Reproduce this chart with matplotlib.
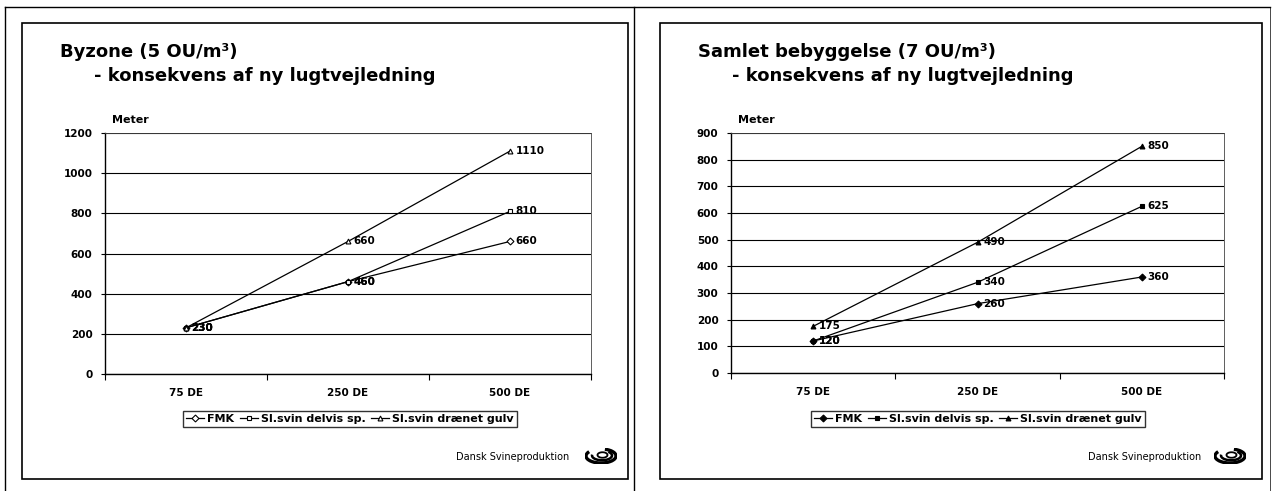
import matplotlib.pyplot as plt
from matplotlib.patches import Rectangle, Arc
from matplotlib.lines import Line2D

categories = ["75 DE", "250 DE", "500 DE"]
seriesNames = ["FMK", "Sl.svin delvis sp.", "Sl.svin drænet gulv"]

byzoneFmk = [230, 460, 660]
byzoneDelvis = [230, 460, 810]
byzoneDraenet = [230, 660, 1110]
byzoneTicks = [0, 200, 400, 600, 800, 1000, 1200]

samletFmk = [120, 260, 360]
samletDelvis = [120, 340, 625]
samletDraenet = [175, 490, 850]
samletTicks = [0, 100, 200, 300, 400, 500, 600, 700, 800, 900]

W, H = 1273, 491
markers = ["D", "s", "^"]


def fx(x):
    return x / W


def fy(y):
    return 1 - y / H


def figLine(fig, x0, y0, x1, y1, lw=1.0):
    fig.add_artist(Line2D([fx(x0), fx(x1)], [fy(y0), fy(y1)], transform=fig.transFigure,
                          color="black", lw=lw))


def drawLogo(fig, cx, cy):
    ax = fig.add_axes([fx(cx - 16), fy(cy + 8), 32 / W, 16 / H])
    ax.set_xlim(-1.6, 1.6)
    ax.set_ylim(-0.8, 0.8)
    ax.axis("off")
    ax.add_patch(Arc((0, 0), 3.0, 1.4, theta1=160, theta2=420, lw=2.4, color="black"))
    ax.add_patch(Arc((0.1, 0.05), 2.0, 0.95, theta1=175, theta2=390, lw=1.8, color="black"))
    ax.add_patch(Arc((0.15, 0.1), 1.0, 0.55, theta1=0, theta2=360, lw=1.3, color="black"))


def drawPanel(fig, box, axBox, title, series, ticks, legendX, footerX, logoX, filled):
    x0, y0, x1, y1 = box
    fig.add_artist(Rectangle((fx(x0), fy(y1)), fx(x1 - x0), (y1 - y0) / H,
                             transform=fig.transFigure, fill=False, lw=1.2, color="black"))

    fig.text(fx(x0 + 38), fy(52), title, fontsize=13, fontweight="bold",
             va="center", ha="left")
    fig.text(fx(x0 + 72), fy(76), "- konsekvens af ny lugtvejledning", fontsize=13,
             fontweight="bold", va="center", ha="left")

    ax0, ay0, ax1, ay1 = axBox
    ax = fig.add_axes([fx(ax0), fy(ay1), fx(ax1 - ax0), (ay1 - ay0) / H])
    fig.text(fx(ax0 + 7), fy(120), "Meter", fontsize=8, fontweight="bold", va="center")

    xs = range(len(categories))
    for values, name, marker in zip(series, seriesNames, markers):
        ax.plot(xs, values, color="black", lw=0.9, marker=marker, markersize=3.5,
                markerfacecolor="black" if filled else "white", markeredgewidth=0.8,
                label=name)
        for x, v in zip(xs, values):
            ax.annotate(str(v), (x, v), xytext=(4, 0), textcoords="offset points",
                        fontsize=7.5, fontweight="bold", va="center", ha="left")

    ax.set_xlim(-0.5, len(categories) - 0.5)
    ax.set_ylim(ticks[0], ticks[-1])
    ax.set_yticks(ticks)
    ax.set_yticklabels([str(t) for t in ticks], fontsize=7.5, fontweight="bold")
    ax.set_xticks([i - 0.5 for i in range(len(categories) + 1)])
    ax.set_xticklabels([])
    ax.set_xticks(list(xs), minor=True)
    ax.set_xticklabels(categories, minor=True, fontsize=7.5, fontweight="bold")
    ax.tick_params(axis="x", which="minor", length=0, pad=10)
    ax.tick_params(axis="x", which="major", length=4, direction="out")
    ax.tick_params(axis="y", length=3, direction="out", pad=6)
    ax.yaxis.grid(True, color="black", lw=0.8)
    ax.set_axisbelow(True)
    for side in ["left", "bottom"]:
        ax.spines[side].set_linewidth(1.0)
    for side in ["top", "right"]:
        ax.spines[side].set_linewidth(0.6)
        ax.spines[side].set_color("#444444")

    fig.legend(*ax.get_legend_handles_labels(), loc="center",
               bbox_to_anchor=(fx(legendX), fy(419)), ncol=3,
               prop={"weight": "bold", "size": 8}, frameon=True, fancybox=False,
               edgecolor="black", handlelength=1.6, handletextpad=0.3,
               columnspacing=0.5, borderpad=0.25, borderaxespad=0)

    fig.text(fx(footerX), fy(457), "Dansk Svineproduktion", fontsize=7, va="center",
             ha="right")
    drawLogo(fig, logoX, 456)
    return ax


def main():
    fig = plt.figure(figsize=(W / 100, H / 100), dpi=100)
    fig.patch.set_facecolor("white")

    figLine(fig, 5, 7, 1270, 7)
    figLine(fig, 5, 7, 5, 491)
    figLine(fig, 634, 7, 634, 491)
    figLine(fig, 1270, 7, 1270, 491, lw=0.5)

    drawPanel(fig, (22, 23, 628, 479), (105, 133, 591, 374), "Byzone (5 OU/m³)",
              [byzoneFmk, byzoneDelvis, byzoneDraenet], byzoneTicks, 350, 569, 601, False)
    drawPanel(fig, (660, 23, 1262, 479), (731, 133, 1224, 373),
              "Samlet bebyggelse (7 OU/m³)",
              [samletFmk, samletDelvis, samletDraenet], samletTicks, 978, 1201, 1230, True)

    fig.savefig("out.png", dpi=100)


main()
